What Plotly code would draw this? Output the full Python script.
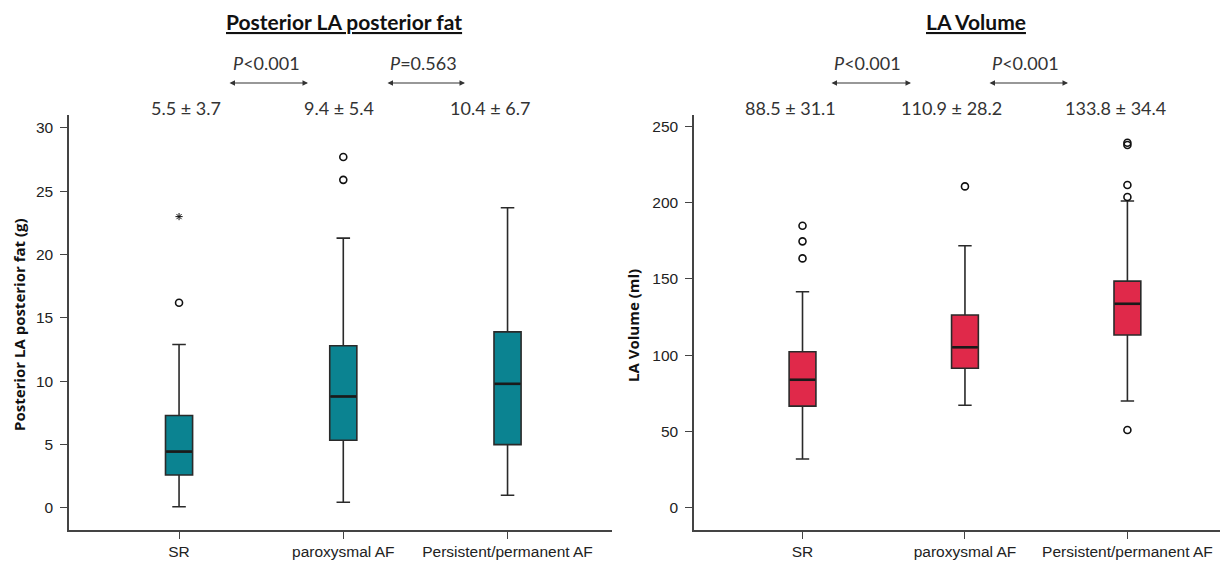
import plotly.graph_objects as go

W, H = 1226, 562

categories = ["SR", "paroxysmal AF", "Persistent/permanent AF"]
cat_pos = [0, 1, 2]

# Posterior LA posterior fat (g)
fat_lower = [0.1, 0.45, 1.0]
fat_q1 = [2.6, 5.35, 5.0]
fat_median = [4.45, 8.8, 9.8]
fat_q3 = [7.3, 12.8, 13.9]
fat_upper = [12.9, 21.3, 23.7]
fat_outlier_x = [0, 1, 1]
fat_outlier_y = [16.2, 25.9, 27.7]
fat_extreme_x = [0]
fat_extreme_y = [23.0]
fat_means = ["5.5 ± 3.7", "9.4 ± 5.4", "10.4 ± 6.7"]
fat_pvals = ["<i>P</i>&lt;0.001", "<i>P</i>=0.563"]

# LA Volume (ml)
vol_lower = [31.7, 67.0, 69.8]
vol_q1 = [66.5, 91.3, 113.2]
vol_median = [83.8, 105.1, 133.7]
vol_q3 = [102.2, 126.3, 148.6]
vol_upper = [141.6, 171.8, 201.2]
vol_outlier_x = [0, 0, 0, 1, 2, 2, 2, 2, 2]
vol_outlier_y = [163.5, 174.7, 185.0, 210.8, 50.8, 203.8, 211.7, 238.0, 239.5]
vol_means = ["88.5 ± 31.1", "110.9 ± 28.2", "133.8 ± 34.4"]
vol_pvals = ["<i>P</i>&lt;0.001", "<i>P</i>&lt;0.001"]

fat_ticks = [0, 5, 10, 15, 20, 25, 30]
vol_ticks = [0, 50, 100, 150, 200, 250]

TEAL = "#0B8391"
RED = "#E0294A"
BOXW = 0.165
LINE = "#2a2a2a"


def px(x):
    return min(max(x / W, 0), 1)


def py(y):
    return min(max(1 - y / H, 0), 1)


fig = go.Figure()


def add_panel(xa, ya, lo, q1, med, q3, up, fill, ox, oy):
    fig.add_trace(go.Box(
        x=cat_pos, q1=q1, median=med, q3=q3, lowerfence=lo, upperfence=up,
        width=BOXW, whiskerwidth=0.5, fillcolor=fill,
        line=dict(color=LINE, width=1.6), boxpoints=False,
        xaxis=xa, yaxis=ya, showlegend=False, hoverinfo="skip"))
    for i, m in zip(cat_pos, med):
        fig.add_trace(go.Scatter(
            x=[i - BOXW / 2 + 0.004, i + BOXW / 2 - 0.004], y=[m, m], mode="lines",
            line=dict(color="#1a1a1a", width=2.6), xaxis=xa, yaxis=ya,
            showlegend=False, hoverinfo="skip"))
    fig.add_trace(go.Scatter(
        x=ox, y=oy, mode="markers",
        marker=dict(symbol="circle-open", size=7, color="#111", line=dict(width=1.6)),
        xaxis=xa, yaxis=ya, showlegend=False, hoverinfo="skip"))


add_panel("x", "y", fat_lower, fat_q1, fat_median, fat_q3, fat_upper, TEAL,
          fat_outlier_x, fat_outlier_y)
fig.add_trace(go.Scatter(
    x=fat_extreme_x, y=fat_extreme_y, mode="markers",
    marker=dict(symbol="asterisk-open", size=6, color="#111", line=dict(width=1.0, color="#111")),
    xaxis="x", yaxis="y", showlegend=False, hoverinfo="skip"))
add_panel("x2", "y2", vol_lower, vol_q1, vol_median, vol_q3, vol_upper, RED,
          vol_outlier_x, vol_outlier_y)

tickfont = dict(family="Liberation Sans, Arial, sans-serif", size=15.5, color="#222")
ydom = [py(530), py(115)]

xcommon = dict(tickmode="array", tickvals=cat_pos, ticktext=categories,
               showline=True, linecolor="#444", linewidth=1.5, ticks="outside",
               ticklen=7, tickcolor="#444", tickwidth=1.2, showgrid=False,
               zeroline=False, tickfont=tickfont, fixedrange=True)
ycommon = dict(showline=True, linecolor="#444", linewidth=1.5, ticks="outside",
               ticklen=7, tickcolor="#444", tickwidth=1.2, showgrid=False,
               zeroline=False, tickfont=tickfont, domain=ydom, fixedrange=True,
               tickmode="array", ticklabelstandoff=4)

fig.update_layout(
    width=W, height=H, margin=dict(l=0, r=0, t=0, b=0),
    paper_bgcolor="white", plot_bgcolor="white",
    xaxis=dict(domain=[px(69), px(612)], range=[-0.67, 2.636], anchor="y", **xcommon),
    yaxis=dict(range=[-1.74, 31.02], tickvals=fat_ticks, anchor="x", **ycommon),
    xaxis2=dict(domain=[px(694), px(1220)], range=[-0.668, 2.57], anchor="y2", **xcommon),
    yaxis2=dict(range=[-14.9, 257.7], tickvals=vol_ticks, anchor="x2", **ycommon),
)

ann_font = dict(family="Lato, sans-serif", size=18, color="#333")
title_font = dict(family="Lato, sans-serif", size=21, color="#111")
ytitle_font = dict(family="Open Sans, sans-serif", size=15, color="#111")

annotations = []


def panel_annots(title, title_x, ytitle, ytitle_x, pvals, p_x, arrows, means, mean_x):
    annotations.append(dict(text="<b><u>" + title + "</u></b>", x=px(title_x), y=py(22),
                            xref="paper", yref="paper", showarrow=False, font=title_font,
                            xanchor="center", yanchor="middle"))
    annotations.append(dict(text="<b>" + ytitle + "</b>", x=px(ytitle_x), y=py(325),
                            xref="paper", yref="paper", showarrow=False, font=ytitle_font,
                            textangle=-90, xanchor="center", yanchor="middle"))
    for t, xc in zip(pvals, p_x):
        annotations.append(dict(text=t, x=px(xc), y=py(63), xref="paper", yref="paper",
                                showarrow=False, font=ann_font, xanchor="center", yanchor="middle"))
    for (a, b) in arrows:
        annotations.append(dict(text="", x=px(b), y=py(83), xref="paper", yref="paper",
                                ax=-(b - a), ay=0, showarrow=True, arrowhead=2,
                                arrowside="end+start", arrowsize=1, arrowwidth=1.1,
                                arrowcolor="#333"))
    for t, xc in zip(means, mean_x):
        annotations.append(dict(text=t, x=px(xc), y=py(108), xref="paper", yref="paper",
                                showarrow=False, font=ann_font, xanchor="center", yanchor="middle"))


panel_annots("Posterior LA posterior fat", 344, "Posterior LA posterior fat (g)", 19,
             fat_pvals, [266, 423.5], [(228, 308), (386, 465)], fat_means, [186, 339, 490])
panel_annots("LA Volume", 976, "LA Volume (ml)", 633,
             vol_pvals, [867, 1025], [(830, 911), (988, 1068)], vol_means, [790, 951, 1115])

fig.update_layout(annotations=annotations)

page_css = (
    "document.documentElement.style.margin='0';"
    "document.documentElement.style.overflow='hidden';"
    "document.body.style.margin='0';"
    "document.body.style.overflow='hidden';"
)
fig.write_html("out.html", config={"displayModeBar": False}, post_script=page_css)
